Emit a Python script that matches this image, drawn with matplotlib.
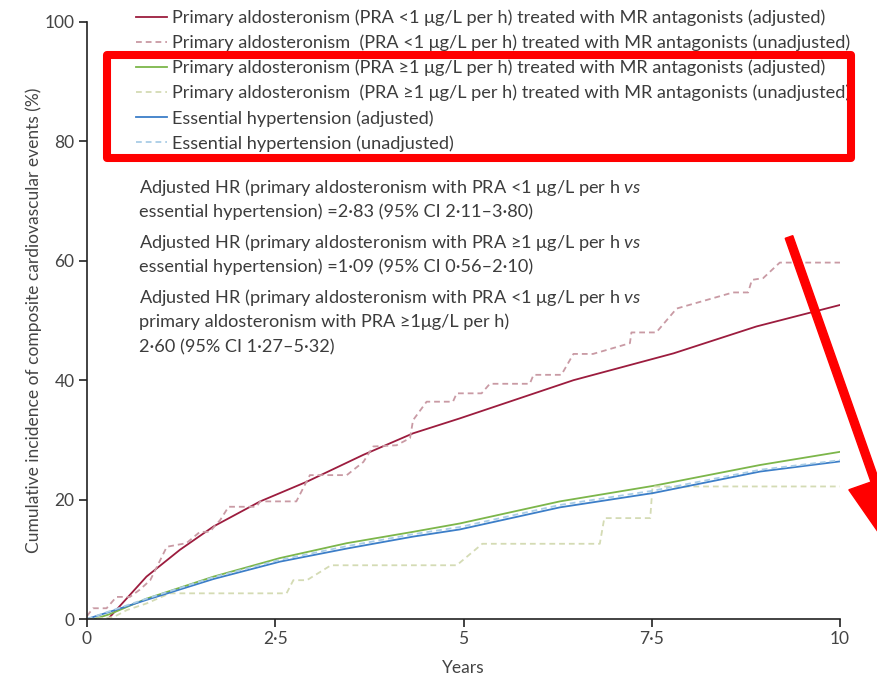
import matplotlib
matplotlib.use("Agg")
import matplotlib.pyplot as plt
from matplotlib.patches import Rectangle, FancyArrow

plt.rcParams['font.family'] = ['Lato', 'DejaVu Sans']
plt.rcParams['mathtext.fontset'] = 'custom'
plt.rcParams['mathtext.rm'] = 'Lato'
plt.rcParams['mathtext.it'] = 'Lato:italic'

# ---------------- data ----------------
pa_low_adj_x = [0.28, 0.79, 1.235, 1.68, 2.30, 2.92, 3.67, 4.33, 4.95, 6.46, 7.79, 8.89, 10]
pa_low_adj_y = [0, 7.1, 11.6, 15.5, 19.7, 23.0, 27.5, 31.1, 33.6, 40.0, 44.5, 49.0, 52.6]

pa_low_unadj_x = [0, 0.08, 0.26, 0.39, 0.57, 0.70, 0.84, 1.06, 1.32, 1.50, 1.63, 1.77, 1.88,
                  2.25, 2.30, 2.78, 2.96, 3.45, 3.67, 3.80, 4.11, 4.29, 4.33, 4.51, 4.86,
                  4.91, 5.24, 5.35, 5.88, 5.93, 6.30, 6.46, 6.72, 7.21, 7.23, 7.56, 7.83,
                  8.58, 8.78, 8.83, 8.98, 9.20, 10]
pa_low_unadj_y = [0.5, 1.8, 1.8, 3.7, 3.7, 4.9, 6.5, 12.1, 12.7, 14.6, 14.6, 16.6, 18.8,
                  18.8, 19.7, 19.7, 24.1, 24.1, 26.3, 28.9, 29.1, 30.3, 33.3, 36.4, 36.4,
                  37.8, 37.8, 39.4, 39.4, 40.9, 40.9, 44.4, 44.4, 46.2, 48.0, 48.0, 52.0,
                  54.7, 54.7, 56.8, 57.1, 59.7, 59.7]

pa_high_adj_x = [0.1, 0.3, 0.79, 1.68, 2.56, 3.45, 4.33, 4.95, 6.28, 7.52, 8.94, 10]
pa_high_adj_y = [0, 0.8, 3.4, 7.1, 10.2, 12.7, 14.6, 16.0, 19.7, 22.3, 25.8, 28.0]

pa_high_unadj_x = [0, 0.35, 0.53, 0.79, 1.1, 2.65, 2.74, 2.92, 3.24, 4.91, 5.25, 6.81, 6.87,
                   7.48, 7.51, 10]
pa_high_unadj_y = [0, 0.3, 1.5, 2.6, 4.3, 4.3, 6.5, 6.5, 9.0, 9.0, 12.6, 12.6, 16.9,
                   16.9, 22.2, 22.2]

eh_adj_x = [0, 0.3, 0.79, 1.68, 2.56, 3.45, 4.33, 4.95, 6.28, 7.52, 8.94, 10]
eh_adj_y = [0, 1.2, 3.2, 6.7, 9.6, 11.8, 13.8, 15.0, 18.7, 21.1, 24.7, 26.4]

eh_unadj_x = [0, 0.3, 0.79, 1.68, 2.56, 3.45, 4.33, 4.95, 6.28, 7.52, 8.94, 10]
eh_unadj_y = [0, 1.3, 3.4, 7.0, 9.9, 12.2, 14.2, 15.4, 19.1, 21.5, 25.0, 26.6]

labels = [
    "Primary aldosteronism (PRA <1 \u03bcg/L per h) treated with MR antagonists (adjusted)",
    "Primary aldosteronism  (PRA <1 \u03bcg/L per h) treated with MR antagonists (unadjusted)",
    "Primary aldosteronism (PRA \u22651 \u03bcg/L per h) treated with MR antagonists (adjusted)",
    "Primary aldosteronism  (PRA \u22651 \u03bcg/L per h) treated with MR antagonists (unadjusted)",
    "Essential hypertension (adjusted)",
    "Essential hypertension (unadjusted)",
]

x_ticks = [0, 2.5, 5, 7.5, 10]
x_tick_labels = ["0", "2\u00b75", "5", "7\u00b75", "10"]
y_ticks = [0, 20, 40, 60, 80, 100]
y_tick_labels = ["0", "20", "40", "60", "80", "100"]

hr_lines = [
    ["Adjusted HR (primary aldosteronism with PRA <1 \u03bcg/L per h $\\mathit{vs}$",
     "essential hypertension) =2\u00b783 (95% CI 2\u00b711\u20133\u00b780)"],
    ["Adjusted HR (primary aldosteronism with PRA \u22651 \u03bcg/L per h $\\mathit{vs}$",
     "essential hypertension) =1\u00b709 (95% CI 0\u00b756\u20132\u00b710)"],
    ["Adjusted HR (primary aldosteronism with PRA <1 \u03bcg/L per h $\\mathit{vs}$",
     "primary aldosteronism with PRA \u22651\u03bcg/L per h)",
     "2\u00b760 (95% CI 1\u00b727\u20135\u00b732)"],
]

# ---------------- figure ----------------
W, H = 878, 679
fig = plt.figure(figsize=(W / 100, H / 100), dpi=100)
ax = fig.add_axes([87 / W, 1 - 619 / H, (840 - 87) / W, (619 - 22) / H])

c_red = "#9c1c3e"
c_red_l = "#c99aa4"
c_grn = "#7cb64a"
c_grn_l = "#d4dbb4"
c_blu = "#3c7ec8"
c_blu_l = "#a9cde6"
dash = (0, (3.2, 2.2))

ax.plot(pa_low_adj_x, pa_low_adj_y, color=c_red, lw=1.3, label=labels[0])
ax.plot(pa_low_unadj_x, pa_low_unadj_y, color=c_red_l, lw=1.3, ls=dash, label=labels[1])
ax.plot(pa_high_adj_x, pa_high_adj_y, color=c_grn, lw=1.3, label=labels[2])
ax.plot(pa_high_unadj_x, pa_high_unadj_y, color=c_grn_l, lw=1.3, ls=dash, label=labels[3])
ax.plot(eh_adj_x, eh_adj_y, color=c_blu, lw=1.3, label=labels[4])
ax.plot(eh_unadj_x, eh_unadj_y, color=c_blu_l, lw=1.3, ls=dash, label=labels[5])

ax.set_xlim(0, 10)
ax.set_ylim(0, 100)
ax.spines['top'].set_visible(False)
ax.spines['right'].set_visible(False)
for s in ('left', 'bottom'):
    ax.spines[s].set_linewidth(1.2)
    ax.spines[s].set_color('#222222')
ax.set_xticks(x_ticks)
ax.set_xticklabels(x_tick_labels)
ax.set_yticks(y_ticks)
ax.set_yticklabels(y_tick_labels)
ax.tick_params(direction='out', length=6, width=1.2, color='#222222',
               labelsize=12.5, labelcolor='#444444', pad=3)
ax.set_xlabel("Years", fontsize=12.5, color='#444444', labelpad=9)
ax.set_ylabel("Cumulative incidence of composite cardiovascular events (%)",
              fontsize=12.5, color='#444444', labelpad=2)

FS = 13.1
leg = ax.legend(loc='upper left', bbox_to_anchor=(136 / W, 1 - 9.5 / H),
                bbox_transform=fig.transFigure, frameon=False, fontsize=FS,
                borderpad=0, borderaxespad=0, labelspacing=0.47,
                handlelength=1.7, handletextpad=0.28)
for t in leg.get_texts():
    t.set_color('#3c3c3c')

# HR annotations
y_px = 187
for block in hr_lines:
    for line in block:
        fig.text(139 / W, 1 - y_px / H, line, fontsize=FS, color='#3c3c3c',
                 va='center', ha='left')
        y_px += 25
    y_px += 5

# red highlight box and arrow (overlay annotations of the reference)
fig.patches.append(Rectangle((107 / W, 1 - 158 / H), (851 - 107) / W, (158 - 55) / H,
                             transform=fig.transFigure, fill=False, edgecolor='#ff0000',
                             linewidth=5.8, joinstyle='round', zorder=10))
x0, y0 = 789, 237
x1, y1 = 908, 575
fig.patches.append(FancyArrow(x0 / 100, (H - y0) / 100, (x1 - x0) / 100, -(y1 - y0) / 100,
                              width=0.08, head_width=0.55, head_length=1.0,
                              length_includes_head=True, transform=fig.dpi_scale_trans,
                              color='#ff0000', zorder=10))

fig.savefig("out.png", dpi=100)
